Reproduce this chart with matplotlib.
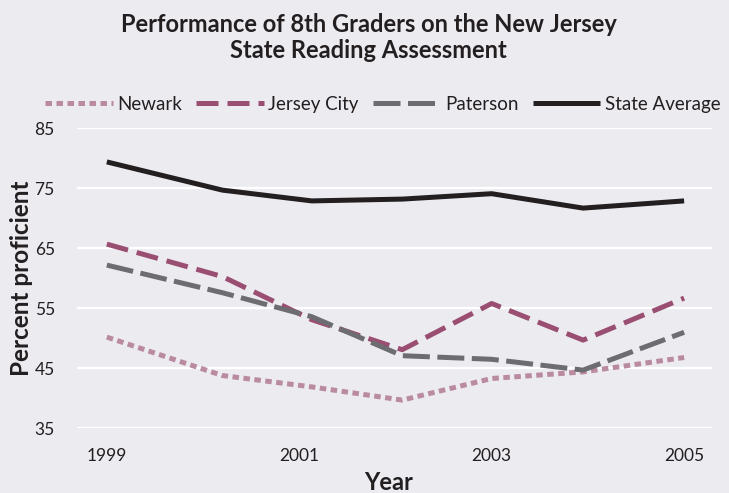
import matplotlib.pyplot as plt

# Дані
years = [1999, 2000.2, 2001.13, 2002.07, 2003, 2003.95, 2005]
newark = [50.2, 43.8, 41.9, 39.7, 43.3, 44.4, 46.8]
jersey_city = [65.7, 60.3, 53.1, 48.1, 55.8, 49.7, 56.7]
paterson = [62.2, 57.6, 53.6, 47.1, 46.5, 44.7, 51.0]
state_avg = [79.4, 74.7, 72.9, 73.2, 74.1, 71.7, 72.9]

x_ticks = [1999, 2001, 2003, 2005]
y_ticks = [35, 45, 55, 65, 75, 85]

bg = '#ecebf0'
ink = '#231f20'
plt.rcParams['font.family'] = ['Lato', 'DejaVu Sans']

fig = plt.figure(figsize=(7.29, 4.93), dpi=100, facecolor=bg)
ax = fig.add_axes([77 / 729, 1 - 428.3 / 493, (712 - 77) / 729, 300 / 493])
ax.set_facecolor(bg)

lw = 3.6
ax.plot(years, newark, color='#b98aa0', lw=lw, dashes=(1.3, 0.9),
        dash_capstyle='butt', label='Newark')
ax.plot(years, jersey_city, color='#9a4f72', lw=lw, dashes=(4.4, 1.8),
        dash_capstyle='butt', label='Jersey City')
ax.plot(years, paterson, color='#6d6c70', lw=lw, dashes=(5.4, 1.5),
        dash_capstyle='butt', label='Paterson')
ax.plot(years, state_avg, color=ink, lw=lw, solid_capstyle='butt',
        label='State Average')

ax.set_xlim(1998.69, 2005.29)
ax.set_ylim(35, 85)
ax.set_xticks(x_ticks)
ax.set_xticklabels([str(y) for y in x_ticks])
ax.set_yticks(y_ticks)
ax.grid(axis='y', color='white', lw=1.6)
ax.set_axisbelow(True)
for s in ax.spines.values():
    s.set_visible(False)
ax.tick_params(axis='both', length=0, labelsize=12.5, colors=ink)
ax.tick_params(axis='x', pad=14)
ax.tick_params(axis='y', pad=16)

ax.set_xlabel('Year', fontsize=17, fontweight='bold', color=ink, va='center')
ax.xaxis.set_label_coords(0.491, -0.179)
ax.set_ylabel('Percent proficient', fontsize=17.5, fontweight='bold',
              color=ink, va='center')
ax.yaxis.set_label_coords(-0.088, 0.5)

fig.text(0.506, 0.924, 'Performance of 8th Graders on the New Jersey\nState Reading Assessment',
         ha='center', va='center', fontsize=17, fontweight='bold',
         color=ink, linespacing=1.2)

fig.legend(loc='center', bbox_to_anchor=(0.525, 0.789), ncol=4, frameon=False,
           fontsize=13.5, handlelength=3.6, columnspacing=0.75, handletextpad=0.25,
           labelcolor=ink)

fig.savefig('out.png', dpi=100, facecolor=bg)
